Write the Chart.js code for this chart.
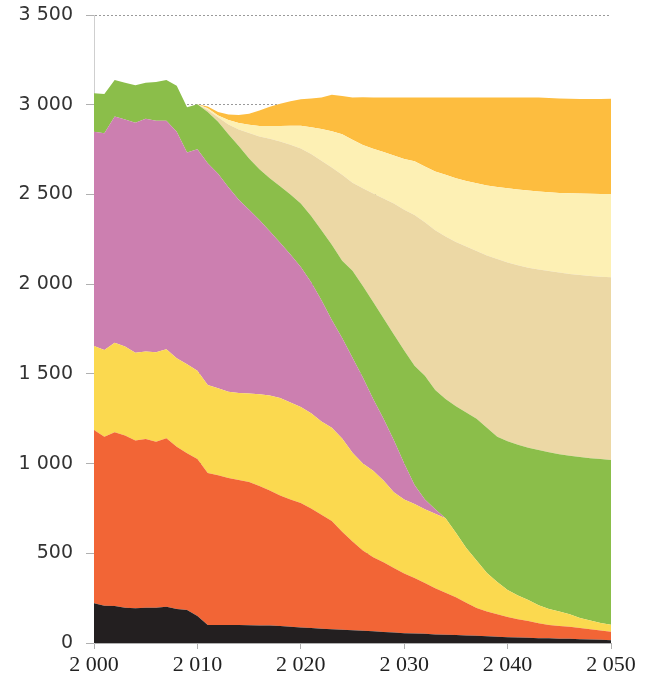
<!DOCTYPE html>
<html>
<head>
<meta charset="utf-8">
<script src="https://cdn.jsdelivr.net/npm/chart.js@4/dist/chart.umd.min.js"></script>
<style>
html,body{margin:0;padding:0;background:#fff;}
#wrap{width:647px;height:683px;position:relative;}
</style>
</head>
<body>
<div id="wrap"><canvas id="c" width="647" height="683"></canvas></div>
<script>
const years = [];
for (let y = 2000; y <= 2050; y++) years.push(y);

const xTicks = [2000, 2010, 2020, 2030, 2040, 2050];
const yTicks = [0, 500, 1000, 1500, 2000, 2500, 3000, 3500];

const seriesBlack = [221,208,206,197,193,197,197,202,190,184,150,
  100,100,100,100,99,98,97,95,90,86,
  83,80,77,74,71,68,65,62,58,55,
  53,51,48,46,44,42,40,37,35,32,
  30,29,27,26,24,23,21,19,18,16];

const seriesOrange = [966,942,968,959,935,940,925,939,904,873,875,
  848,835,820,808,798,777,753,727,710,694,
  667,635,603,546,494,447,413,388,360,333,
  309,284,257,234,211,183,155,138,125,113,
  103,93,83,74,71,67,62,57,52,47];

const seriesYellow = [468,483,500,497,490,487,498,496,493,496,493,
  490,485,480,485,493,512,530,543,540,535,
  530,520,520,520,495,485,482,455,422,412,
  413,410,415,415,360,305,265,215,180,150,
  132,118,100,90,80,70,57,49,42,39];

const seriesPink = [1195,1208,1260,1265,1282,1298,1291,1274,1263,1180,1234,
  1236,1195,1140,1077,1025,971,915,865,825,780,
  730,675,600,560,530,480,400,345,290,200,
  105,55,25,0,0,0,0,0,0,0,
  0,0,0,0,0,0,0,0,0,0];

const seriesGreen = [214,219,204,205,208,201,216,227,255,253,251,
  286,290,295,300,285,282,295,315,335,355,
  370,390,420,430,485,510,540,560,590,630,
  665,690,665,665,705,755,790,810,810,830,
  840,848,865,873,877,883,896,905,913,918];

const seriesTan = [0,0,0,0,0,0,0,0,0,0,0,
  10,25,55,92,142,183,220,250,277,306,
  345,388,430,480,490,545,605,668,730,785,
  840,855,890,905,915,925,935,960,990,995,
  1000,1004,1007,1010,1013,1014,1015,1016,1016,1018];

const seriesLightYellow = [0,0,0,0,0,0,0,0,0,0,0,
  10,10,25,36,46,59,72,87,106,127,
  150,177,202,225,240,240,250,259,267,282,
  300,310,328,345,355,365,377,390,402,415,
  423,430,435,439,443,449,454,458,462,465];

const seriesAmber = [0,0,0,0,0,0,0,0,0,0,0,
  10,20,30,45,62,86,106,123,137,147,
  160,175,203,213,235,267,285,303,323,343,
  355,385,412,430,450,465,478,490,498,505,
  512,518,523,526,527,527,527,528,529,530];

const fmt = v => String(v).replace(/\B(?=(\d{3})+(?!\d))/g, '\u00a0');

function ds(label, data, color, fill) {
  return {label, data, backgroundColor: color, borderColor: color, borderWidth: 0,
    pointRadius: 0, pointHoverRadius: 0, fill, tension: 0};
}

new Chart(document.getElementById('c'), {
  type: 'line',
  data: {
    labels: years,
    datasets: [
      ds('black', seriesBlack, '#231f20', 'origin'),
      ds('orange', seriesOrange, '#f26536', '-1'),
      ds('yellow', seriesYellow, '#fbd94f', '-1'),
      ds('pink', seriesPink, '#cc7fb0', '-1'),
      ds('green', seriesGreen, '#8bbe4a', '-1'),
      ds('tan', seriesTan, '#ecd8a5', '-1'),
      ds('lightyellow', seriesLightYellow, '#fdf0b4', '-1'),
      ds('amber', seriesAmber, '#fdbd3f', '-1')
    ]
  },
  options: {
    responsive: false,
    animation: false,
    devicePixelRatio: 1,
    layout: {padding: {left: 0, right: 36, top: 15, bottom: 0}},
    plugins: {legend: {display: false}, tooltip: {enabled: false}},
    elements: {line: {borderWidth: 0}},
    scales: {
      x: {
        type: 'linear',
        min: 2000, max: 2050,
        afterBuildTicks: s => { s.ticks = xTicks.map(v => ({value: v})); },
        afterFit: s => { s.height = 40; s.paddingLeft = 0; s.paddingRight = 0; },
        grid: {drawOnChartArea: false, drawTicks: true, tickLength: 6, color: '#b0b0b0'},
        border: {display: true, color: '#b0b0b0', width: 1},
        ticks: {
          callback: v => fmt(v),
          maxRotation: 0, autoSkip: false, padding: 3,
          color: '#222',
          font: {family: '"Liberation Serif", serif', size: 22}
        }
      },
      y: {
        stacked: true,
        min: 0, max: 3500,
        afterBuildTicks: s => { s.ticks = yTicks.map(v => ({value: v})); },
        afterFit: s => { s.width = 94; s.paddingTop = 0; s.paddingBottom = 0; },
        grid: {drawOnChartArea: true, drawTicks: true, tickLength: 8, color: '#9a9a9a',
               tickColor: '#b0b0b0', tickBorderDash: []},
        border: {display: true, color: '#cfcfcf', width: 1, dash: [2, 2]},
        ticks: {
          callback: v => fmt(v),
          padding: 13,
          color: '#333',
          font: {family: '"DejaVu Sans", sans-serif', size: 19}
        }
      }
    }
  }
});
</script>
</body>
</html>
